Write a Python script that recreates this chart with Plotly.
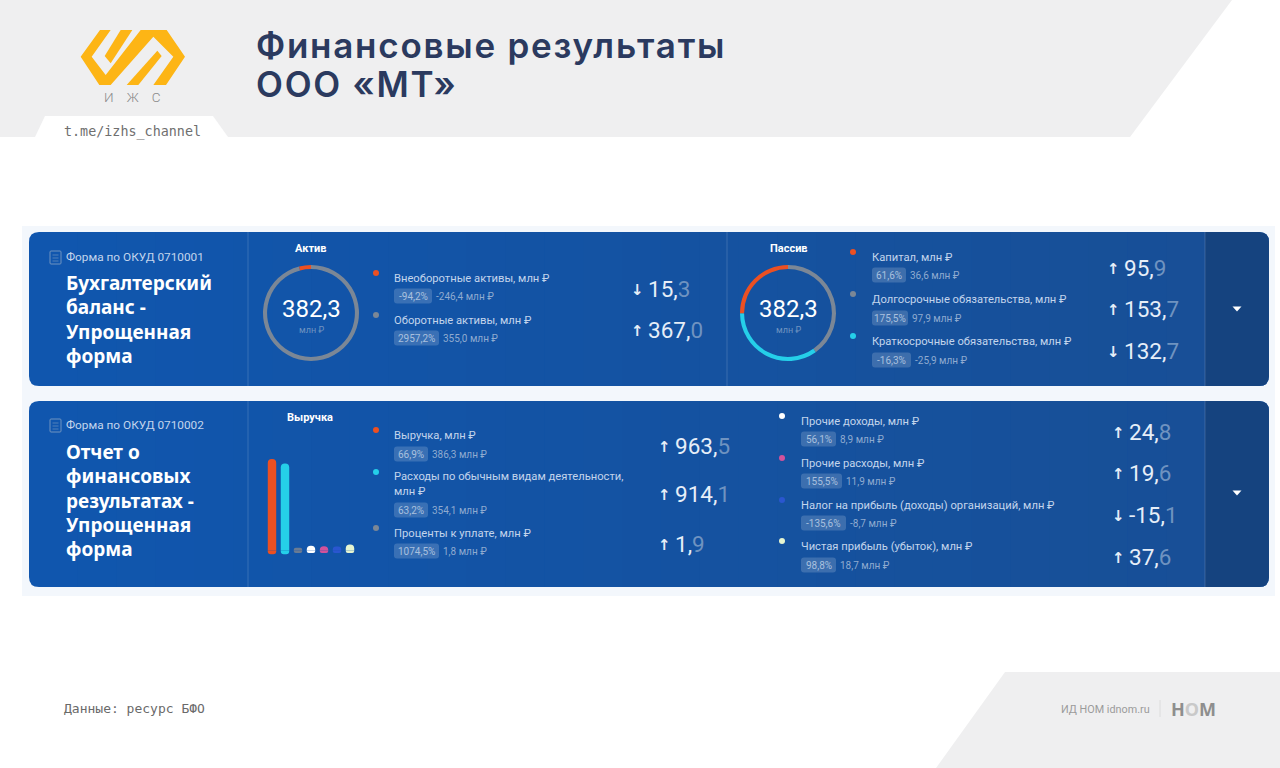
import plotly.graph_objects as go

# ---------- data ----------
asset_names = ["Внеоборотные активы, млн ₽", "Оборотные активы, млн ₽"]
asset_values = [15.3, 367.0]
asset_pct = [-94.2, 2957.2]
asset_delta = [-246.4, 355.0]

liab_names = ["Капитал, млн ₽", "Долгосрочные обязательства, млн ₽", "Краткосрочные обязательства, млн ₽"]
liab_values = [95.9, 153.7, 132.7]
liab_pct = [61.6, 175.5, -16.3]
liab_delta = [36.6, 97.9, -25.9]

pl_left_names = ["Выручка, млн ₽", "Расходы по обычным видам деятельности,<br>млн ₽", "Проценты к уплате, млн ₽"]
pl_left_values = [963.5, 914.1, 1.9]
pl_left_pct = [66.9, 63.2, 1074.5]
pl_left_delta = [386.3, 354.1, 1.8]

pl_right_names = ["Прочие доходы, млн ₽", "Прочие расходы, млн ₽", "Налог на прибыль (доходы) организаций, млн ₽", "Чистая прибыль (убыток), млн ₽"]
pl_right_values = [24.8, 19.6, -15.1, 37.6]
pl_right_pct = [56.1, 155.5, -135.6, 98.8]
pl_right_delta = [8.9, 11.9, -8.7, 18.7]

total_label = "382,3"
title_lines = ["Финансовые результаты", "ООО «МТ»"]
balance_title = ["Бухгалтерский", "баланс -", "Упрощенная", "форма"]
report_title = ["Отчет о", "финансовых", "результатах -", "Упрощенная", "форма"]

# ---------- styles ----------
RED, GREY, CYAN = "#ec5022", "#7b8796", "#25cfe9"
WHITE, PINK, BLUE, PALE = "#ffffff", "#d2529b", "#2a56cf", "#e6f5d0"
BAR_GREY = "#6a7b93"
FONT = "Roboto"
LABEL = "#c3d5ec"
SUB = "#8fabd0"
DIM = "#6f93c0"
NUM = "#e6eef8"

shapes, ann = [], []


def fmt(v):
    return f"{v:.1f}".replace(".", ",")


def txt(x, y, s, size, color, anchor="left", family=FONT, bold=False, weight=None, spacing=None):
    if spacing is not None:
        s = f'<span style="letter-spacing:{spacing}px">{s}</span>'
    font = dict(size=size, color=color, family=family)
    if weight is not None:
        font["weight"] = weight
    ann.append(dict(x=x, y=y, xref="x", yref="y", text=f"<b>{s}</b>" if bold else s, showarrow=False,
                    xanchor=anchor, yanchor="middle", align=anchor,
                    font=font, borderpad=0, borderwidth=0))


def poly(pts, color, layer="below"):
    d = "M" + " L".join(f"{x},{y}" for x, y in pts) + " Z"
    shapes.append(dict(type="path", path=d, xref="x", yref="y", fillcolor=color, line=dict(width=0), layer=layer))


def rrect(x0, y0, x1, y1, r, color, line=None, layer="below", corners=(1, 1, 1, 1)):
    tl, tr, br, bl = [r * c for c in corners]
    d = (f"M{x0 + tl},{y0} L{x1 - tr},{y0} Q{x1},{y0} {x1},{y0 + tr} L{x1},{y1 - br} Q{x1},{y1} {x1 - br},{y1} "
         f"L{x0 + bl},{y1} Q{x0},{y1} {x0},{y1 - bl} L{x0},{y0 + tl} Q{x0},{y0} {x0 + tl},{y0} Z")
    shapes.append(dict(type="path", path=d, xref="x", yref="y", fillcolor=color,
                       line=dict(width=0) if line is None else line, layer=layer))


def vline(x, y0, y1, color="rgba(255,255,255,0.16)"):
    shapes.append(dict(type="line", x0=x, x1=x, y0=y0, y1=y1, xref="x", yref="y",
                       line=dict(color=color, width=1), layer="below"))


def mix(a, b, t):
    ca = [int(a[i:i + 2], 16) for i in (1, 3, 5)]
    cb = [int(b[i:i + 2], 16) for i in (1, 3, 5)]
    return "#" + "".join(f"{round(p + (q - p) * t):02x}" for p, q in zip(ca, cb))


# ---------- page background ----------
poly([(0, 0), (1232, 0), (1130, 137), (0, 137)], "#efeff0")
poly([(35, 137), (45, 116), (213, 116), (228, 137)], "#ffffff")
poly([(1005, 672), (1280, 672), (1280, 768), (936, 768)], "#efeff0")
shapes.append(dict(type="rect", x0=22, x1=1275, y0=226, y1=596, xref="x", yref="y",
                   fillcolor="#f3f7fc", line=dict(width=0), layer="below"))

# ---------- logo ----------
OX, OY = 70, 20
for piece in [
    [(90, 30), (122, 30), (65, 110), (107, 165), (212, 30), (290, 30), (345, 110), (288, 195), (250, 195),
     (310, 110), (250, 50), (122, 195), (88, 195), (32, 110)],
    [(152, 30), (187, 30), (122, 130), (104, 108)],
    [(262, 92), (275, 108), (205, 195), (170, 195)],
]:
    poly([(OX + x / 3, OY + y / 3) for x, y in piece], "#fdb515")

txt(132, 97, "И    Ж    С", 13.5, "#8a8a8a", "center", "Roboto", weight=300)
txt(64, 132, "t.me/izhs_channel", 13.4, "#6f6f6f", "left", "DejaVu Sans Mono")
for i, line in enumerate(title_lines):
    txt(256, 45 + i * 38.5, line, 35, "#2b3a5f", "left", "Inter", weight=600, spacing=1.75)

# ---------- panels ----------
for y0, y1, caret_y in [(232, 386, 309), (401, 587, 493)]:
    rrect(29, y0, 1269, y1, 10, "#1056ae")
    steps = 30
    x_a, x_b = 39, 1205
    for i in range(steps):
        xa = x_a + (x_b - x_a) * i / steps
        xb = x_a + (x_b - x_a) * (i + 1) / steps + 0.6
        shapes.append(dict(type="rect", x0=xa, x1=xb, y0=y0, y1=y1, xref="x", yref="y",
                           fillcolor=mix("#1056ae", "#184f96", i / steps), line=dict(width=0), layer="below"))
    rrect(1205, y0, 1269, y1, 10, "#15437f", corners=(0, 1, 1, 0))
    vline(248, y0, y1)
    vline(1205, y0, y1)
    poly([(1232.5, caret_y - 2.5), (1241.5, caret_y - 2.5), (1237, caret_y + 2.5)], "#ffffff")
vline(727, 232, 386)

# ---------- left captions ----------
for yc, form, lines, y_first in [(257, "Форма по ОКУД 0710001", balance_title, 283),
                                 (425, "Форма по ОКУД 0710002", report_title, 452)]:
    rrect(50, yc - 6, 61, yc + 7, 1, "rgba(0,0,0,0)", line=dict(color="#6f93c0", width=1))
    for dy in (-2, 1, 4):
        shapes.append(dict(type="line", x0=52.5, x1=58.5, y0=yc + dy, y1=yc + dy, xref="x", yref="y",
                           line=dict(color="#6f93c0", width=0.7), layer="below"))
    txt(66, yc, form, 11.8, LABEL)
    for i, line in enumerate(lines):
        txt(66, y_first + i * 24.3, line, 19, "#ffffff", "left", "Noto Sans", True)

txt(310, 248, "Актив", 11, "#ffffff", "center", FONT, True)
txt(789, 248, "Пассив", 11, "#ffffff", "center", FONT, True)
txt(310, 417, "Выручка", 11, "#ffffff", "center", FONT, True)

# ---------- legend blocks ----------
dot_x, dot_y, dot_c = [], [], []


def block(names, values, pcts, deltas, colors, dx, lx, num_x, label_ys, chip_ys, num_ys, chip_ws):
    for i, name in enumerate(names):
        dot_x.append(dx)
        dot_y.append(label_ys[i] - 5)
        dot_c.append(colors[i])
        txt(lx, label_ys[i] if "<br>" not in name else label_ys[i] + 7, name, 11.2, LABEL)
        rrect(lx, chip_ys[i] - 7.5, lx + chip_ws[i], chip_ys[i] + 7.5, 3, "rgba(255,255,255,0.17)")
        txt(lx + chip_ws[i] / 2, chip_ys[i], fmt(pcts[i]) + "%", 10, "#a9c0de", "center")
        txt(lx + chip_ws[i] + 4, chip_ys[i], fmt(deltas[i]) + " млн ₽", 10, SUB)
        txt(num_x - 11, num_ys[i] + 1, "↑" if deltas[i] >= 0 else "↓", 15, NUM, "center", "DejaVu Sans", True)
        head, tail = fmt(values[i]).split(",")
        txt(num_x, num_ys[i], f'{head},<span style="color:{DIM}">{tail}</span>', 22.5, NUM)


block(asset_names, asset_values, asset_pct, asset_delta, [RED, GREY], 376, 394, 648,
      [278, 320], [296, 338], [289, 330], [38, 45])
block(liab_names, liab_values, liab_pct, liab_delta, [RED, GREY, CYAN], 853, 872, 1124,
      [257, 299, 341], [275, 318, 360], [268, 309, 351], [34, 36, 39])
block(pl_left_names, pl_left_values, pl_left_pct, pl_left_delta, [RED, CYAN, GREY], 376, 394, 675,
      [435, 477, 533], [454, 510, 551], [446, 494, 544], [34, 34, 45])
block(pl_right_names, pl_right_values, pl_right_pct, pl_right_delta, [WHITE, PINK, BLUE, PALE], 782, 801, 1129,
      [421, 463, 505, 546], [439, 481, 523, 565], [432, 473, 515, 557], [35, 41, 45, 35])

# ---------- footer ----------
txt(64, 708, "Данные: ресурс БФО", 13, "#6a6a6a", "left", "DejaVu Sans Mono")
txt(1061, 709, "ИД НОМ idnom.ru", 10.8, "#9b9b9b", "left", "Roboto")
vline(1160, 700, 717, "#dcdcdc")
txt(1171, 709, 'H<span style="color:#c9c9c9">O</span>M', 18, "#8e8e8e", "left", "Noto Sans", True)

# ---------- traces ----------
fig = go.Figure()
fig.add_trace(go.Scatter(x=dot_x, y=dot_y, mode="markers", xaxis="x", yaxis="y",
                         marker=dict(size=6, color=dot_c, line=dict(width=0)), hoverinfo="skip"))


def donut(cx, cy, r, vals, colors):
    fig.add_trace(go.Pie(values=vals, marker=dict(colors=colors, line=dict(width=0)), hole=0.915, sort=False,
                         direction="clockwise", rotation=0, textinfo="none", showlegend=False, hoverinfo="skip",
                         domain=dict(x=[(cx - r) / 1280, (cx + r) / 1280],
                                     y=[1 - (cy + r) / 768, 1 - (cy - r) / 768])))


donut(311, 313, 48, [asset_values[1], asset_values[0]], [GREY, RED])
donut(788, 313, 48, [liab_values[1], liab_values[2], liab_values[0]], [GREY, CYAN, RED])
for cx in (311, 788):
    txt(cx, 309, total_label, 24, "#ffffff", "center")
    txt(cx, 330, "млн ₽", 9, "#6f93c0", "center")

bar_values = [abs(v) for v in pl_left_values + pl_right_values]
bar_colors = [RED, CYAN, BAR_GREY, WHITE, PINK, BLUE, PALE]
CAP = 27  # upper rounded end of each pill, in value units
bar_x = list(range(len(bar_values)))
fig.add_trace(go.Bar(x=bar_x, y=[v + CAP for v in bar_values], xaxis="x2", yaxis="y2",
                     marker=dict(color=bar_colors, line=dict(width=0)), width=0.65, hoverinfo="skip"))
fig.add_trace(go.Bar(x=bar_x, y=[-40 if v > 100 else -CAP for v in bar_values], xaxis="x2", yaxis="y2",
                     marker=dict(color=bar_colors, line=dict(width=0)), width=0.65, hoverinfo="skip"))

fig.update_layout(
    width=1280, height=768, margin=dict(l=0, r=0, t=0, b=0), showlegend=False, barmode="overlay",
    paper_bgcolor="#ffffff", plot_bgcolor="rgba(0,0,0,0)", barcornerradius=4,
    xaxis=dict(range=[0, 1280], domain=[0, 1], visible=False, fixedrange=True),
    yaxis=dict(range=[768, 0], domain=[0, 1], visible=False, fixedrange=True),
    xaxis2=dict(range=[-0.5, 6.5], domain=[265.5 / 1280, 356.5 / 1280], visible=False, anchor="y2"),
    yaxis2=dict(range=[-54, 1082], domain=[1 - 555.5 / 768, 1 - 450.5 / 768], visible=False, anchor="x2"),
    shapes=shapes, annotations=ann,
)

fig.write_html("out.html", config=dict(displayModeBar=False),
               post_script="document.body.style.margin='0';")
